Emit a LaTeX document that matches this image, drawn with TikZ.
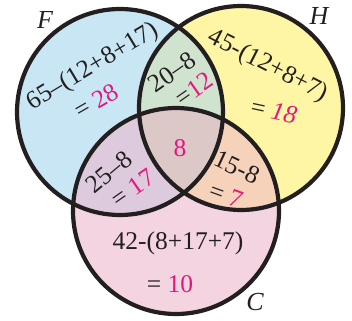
\documentclass[tikz,border=0pt]{standalone}
\usepackage{fontspec}
\setmainfont{Liberation Serif}
\definecolor{fblue}{HTML}{C8E6F4}
\definecolor{hyel}{HTML}{FFF6A5}
\definecolor{cpink}{HTML}{F4D4E0}
\definecolor{fh}{HTML}{CFE3CF}
\definecolor{fc}{HTML}{DDCADD}
\definecolor{hc}{HTML}{F7D2BA}
\definecolor{fhc}{HTML}{DDC8C8}
\definecolor{mag}{HTML}{E6157F}
\definecolor{ink}{HTML}{231F20}
\begin{document}
\begin{tikzpicture}[x=1pt,y=-1pt,
  txt/.style={font=\fontsize{25.5}{27}\selectfont, text=ink, inner sep=0pt},
  num/.style={txt, text=mag},
  lab/.style={font=\fontsize{26}{27}\selectfont\itshape, text=ink, inner sep=0pt},
  ring/.style={draw=ink, line width=4.2pt}]
\useasboundingbox (0,0) rectangle (352,320);
\def\Fc{(120,112) circle[radius=103]}
\def\Hc{(241,108) circle[radius=102]}
\def\Cc{(176,211) circle[radius=103]}
\coordinate (F) at (120,112);
\coordinate (H) at (241,108);
\coordinate (C) at (176,211);
% fills
\fill[fblue] \Fc;
\fill[hyel] \Hc;
\fill[cpink] \Cc;
\begin{scope}\clip \Fc; \fill[fh] \Hc; \end{scope}
\begin{scope}\clip \Fc; \fill[fc] \Cc; \end{scope}
\begin{scope}\clip \Hc; \fill[hc] \Cc; \end{scope}
\begin{scope}\clip \Fc; \clip \Hc; \fill[fhc] \Cc; \end{scope}
% outlines
\draw[ring] \Fc;
\draw[ring] \Hc;
\draw[ring] \Cc;
% labels
\node[lab] (lF) at (45,20) {F};
\node[lab] (lH) at (319,16) {H};
\node[lab] (lC) at (255,302) {C};
% F only
\node[txt, rotate=31] (f1) at (93,67) {65–(12+8+17)};
\node[txt, rotate=30] (f2) at (96,101) {= \textcolor{mag}{28}};
% H only
\node[txt, rotate=-27] (h1) at (268,66) {45-(12+8+7)};
\node[txt, rotate=-12] (h2) at (274,111) {= \textcolor{mag}{\itshape 18}};
% F and H
\node[txt, rotate=35] (fh1) at (172,72) {20–8};
\node[txt, rotate=35] (fh2) at (194,89) {=\textcolor{mag}{12}};
% centre
\node[num] (c0) at (180,148) {8};
% F and C
\node[txt, rotate=40] (fc1) at (109,172) {25–8};
\node[txt, rotate=35] (fc2) at (133,188) {= \textcolor{mag}{17}};
% H and C
\node[txt, rotate=-25] (hc1) at (237,167) {15-8};
\node[txt, rotate=-20] (hc2) at (226,195) {= \textcolor{mag}{7}};
% C only
\node[txt] (c1) at (178,243) {42-(8+17+7)};
\node[txt] (c2) at (170,284) {= \textcolor{mag}{10}};
\end{tikzpicture}
\end{document}
